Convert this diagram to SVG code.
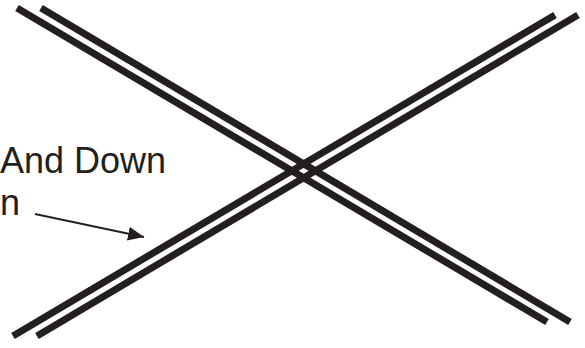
<svg xmlns="http://www.w3.org/2000/svg" width="585" height="348" viewBox="0 0 585 348">
<style>
.bar{stroke:#231f20;stroke-width:7;fill:none;stroke-linecap:butt}
.lbl{font-family:"Liberation Sans",Arial,sans-serif;font-size:36px;fill:#231f20}
.arr{stroke:#231f20;stroke-width:1.8;fill:none}
</style>
<defs>
<marker id="ah" markerUnits="userSpaceOnUse" markerWidth="18" markerHeight="16" refX="16" refY="7" orient="auto">
<path d="M0,0 L16,7 L0,14 Z" fill="#231f20"/>
</marker>
</defs>
<g id="lines">
<line class="bar" x1="17" y1="8" x2="547" y2="322"/>
<line class="bar" x1="41" y1="8" x2="570" y2="322"/>
<line class="bar" x1="13" y1="336" x2="555" y2="15"/>
<line class="bar" x1="37" y1="336" x2="578" y2="15"/>
</g>
<g id="label">
<text class="lbl" x="0" y="173">And Down</text>
<text class="lbl" x="0" y="215">n</text>
</g>
<g id="connectors">
<line class="arr" x1="35" y1="214" x2="144" y2="237" marker-end="url(#ah)"/>
</g>
</svg>
